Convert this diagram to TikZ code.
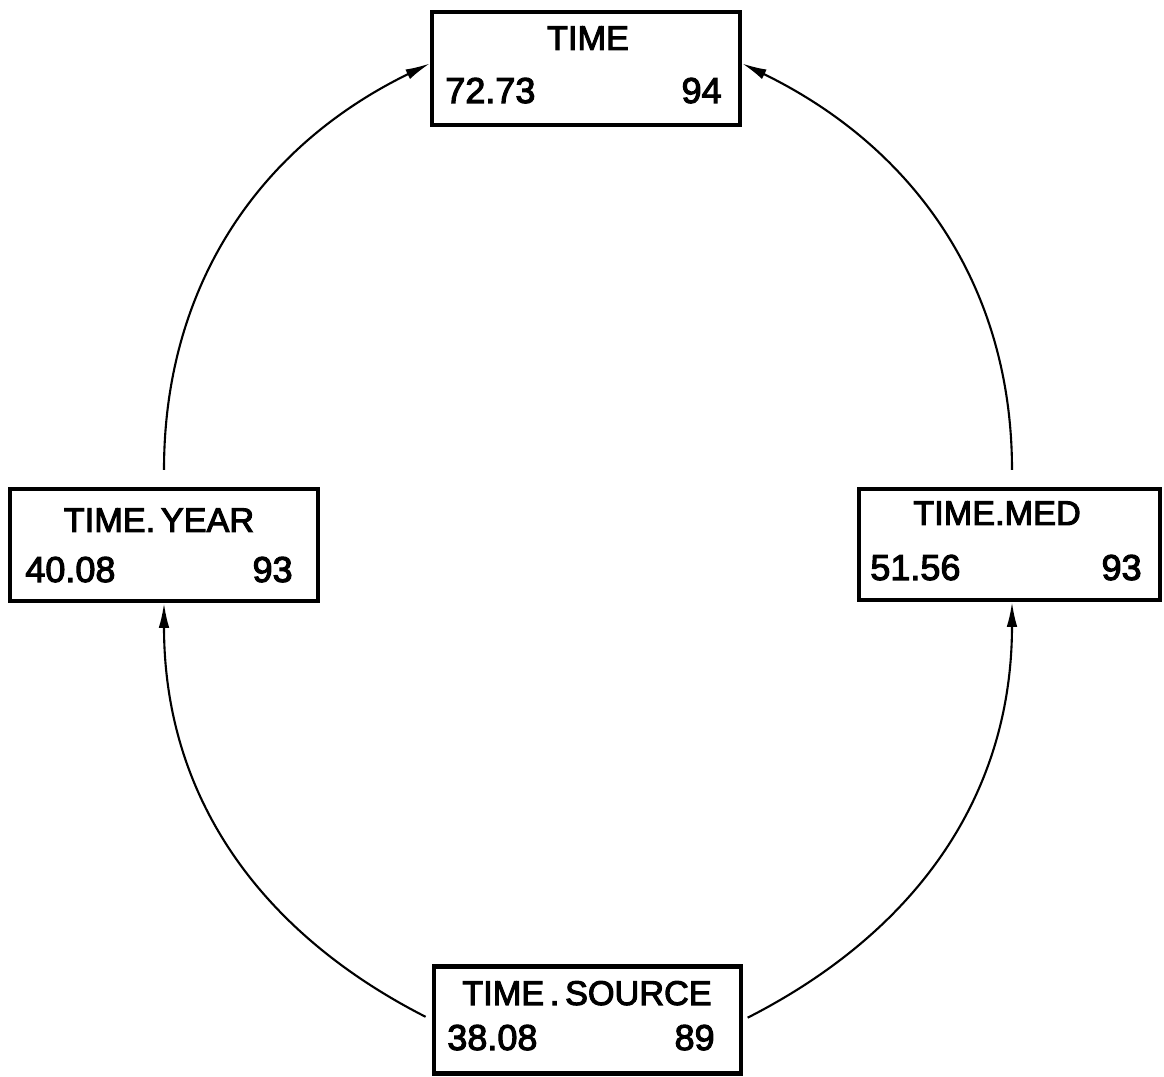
\documentclass[tikz,border=0pt]{standalone}
\usepackage{fontspec}
\setmainfont{Liberation Sans}[FakeBold=3]
\usetikzlibrary{arrows.meta}
\begin{document}
\begin{tikzpicture}[x=0.02cm,y=0.02cm,
  box/.style={draw, line width=2.5pt, rectangle, inner sep=0pt},
  ttl/.style={anchor=base, font=\fontsize{19.5}{19.5}\selectfont, inner sep=0pt},
  numl/.style={anchor=base west, font=\fontsize{20.5}{20.5}\selectfont, inner sep=0pt},
  numr/.style={anchor=base east, font=\fontsize{20.5}{20.5}\selectfont, inner sep=0pt},
  conn/.style={line width=1.2pt, -{Latex[length=14pt,width=6pt]}}]
\useasboundingbox (0,0) rectangle (1164,1077);

% TIME
\node[box, minimum width=6.16cm, minimum height=2.26cm] (time) at (586,1008.5) {};
\node[ttl] (timet) at (588,1027) {TIME};
\node[numl] (timel) at (445,974) {72.73};
\node[numr] (timer) at (722,974) {94};

% TIME.YEAR
\node[box, minimum width=6.16cm, minimum height=2.24cm] (yr) at (164,532) {};
\node[ttl] (yrt) at (159,545) {TIME.\,YEAR};
\node[numl] (yrl) at (25,495) {40.08};
\node[numr] (yrr) at (293,495) {93};

% TIME.MED
\node[box, minimum width=6.02cm, minimum height=2.22cm] (med) at (1009.5,532.5) {};
\node[ttl] (medt) at (997,552) {TIME.MED};
\node[numl] (medl) at (870,497) {51.56};
\node[numr] (medr) at (1142,497) {93};

% TIME.SOURCE
\node[box, minimum width=6.14cm, minimum height=2.14cm] (src) at (587.5,57) {};
\node[ttl] (srct) at (587,72) {TIME\,.\,SOURCE};
\node[numl] (srcl) at (447,27) {38.08};
\node[numr] (srcr) at (715,27) {89};

% connectors
\draw[conn, shorten <=0.34cm] (yr.north) to[out=90, in=206] ([yshift=0.1cm]time.west);
\draw[conn, shorten <=0.34cm] ([xshift=0.05cm]med.north) to[out=90, in=-26] ([yshift=0.1cm]time.east);
\draw[conn, shorten <=0.14cm] (src.west) to[out=153, in=-90] (yr.south);
\draw[conn, shorten <=0.1cm] (src.east) to[out=27, in=-90] ([xshift=0.05cm]med.south);
\end{tikzpicture}
\end{document}
